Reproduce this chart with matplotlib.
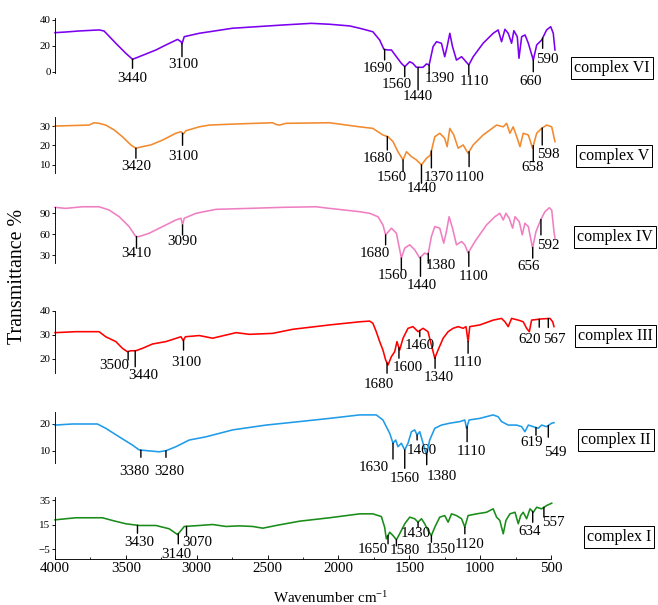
import matplotlib
matplotlib.use("Agg")

import matplotlib.pyplot as plt
import numpy as np

plt.rcParams["font.family"] = ["Liberation Serif", "DejaVu Serif"]
plt.rcParams["mathtext.default"] = "regular"

# ---- spectra (wavenumber cm-1, transmittance %) ----
vi_pts = [(4000, 30.2), (3924, 30.7), (3830, 31.5), (3689, 32.3), (3654, 31.5), (3571, 22.0),
          (3500, 14.2), (3453, 9.6), (3406, 11.6), (3288, 16.8), (3217, 20.7), (3135, 25.0),
          (3111, 23.2), (3104, 21.5), (3088, 27.1), (2982, 29.7), (2748, 33.6), (2395, 36.1),
          (2192, 37.4), (2063, 36.7), (1921, 35.4), (1850, 33.6), (1757, 30.9), (1709, 24.5),
          (1679, 17.3), (1650, 16.8), (1626, 16.8), (1591, 11.6), (1556, 6.5), (1532, 3.9),
          (1497, 7.7), (1475, 6.5), (1450, 3.4), (1403, 3.4), (1379, 6.0), (1360, 5.2),
          (1332, 19.4), (1308, 23.2), (1273, 22.0), (1250, 11.6), (1233, 19.4), (1214, 29.7),
          (1195, 19.4), (1167, 9.0), (1131, 11.6), (1110, 9.0), (1080, 5.2), (1049, 11.6),
          (979, 22.0), (908, 29.7), (873, 32.3), (849, 23.2), (825, 32.8), (802, 29.7),
          (778, 22.0), (762, 31.7), (738, 27.1), (726, 10.4), (707, 27.1), (683, 28.4),
          (660, 22.0), (625, 9.0), (601, 20.7), (566, 24.5), (531, 32.3), (502, 34.8),
          (484, 29.7), (472, 16.8)]
v_pts = [(4000, 30.0), (3760, 30.5), (3724, 31.7), (3689, 31.4), (3642, 30.5), (3583, 28.0),
         (3524, 24.5), (3465, 20.3), (3430, 18.6), (3383, 19.4), (3323, 20.3), (3241, 22.8),
         (3147, 26.3), (3111, 27.1), (3095, 25.9), (3076, 27.6), (2982, 29.6), (2911, 30.5),
         (2746, 31.0), (2464, 31.7), (2440, 30.8), (2416, 30.5), (2369, 31.4), (2063, 31.7),
         (1850, 29.6), (1757, 28.8), (1686, 25.4), (1650, 24.5), (1615, 22.0), (1580, 16.8),
         (1544, 12.6), (1520, 16.8), (1485, 14.3), (1450, 12.6), (1414, 10.0), (1379, 13.4),
         (1351, 15.1), (1320, 24.5), (1285, 26.3), (1250, 23.7), (1233, 19.4), (1214, 28.8),
         (1186, 25.4), (1155, 18.6), (1120, 20.3), (1085, 16.0), (1049, 20.3), (979, 25.4),
         (884, 30.5), (837, 29.6), (813, 31.4), (790, 26.3), (767, 29.6), (738, 23.7),
         (719, 19.4), (696, 26.3), (660, 25.4), (630, 18.6), (601, 26.3), (566, 28.8),
         (531, 30.5), (495, 29.6), (472, 22.0)]
iv_pts = [(4000, 98.6), (3924, 97.1), (3807, 99.4), (3689, 99.4), (3618, 94.7), (3547, 85.1),
          (3477, 70.9), (3430, 56.6), (3406, 56.6), (3335, 61.4), (3241, 70.9), (3147, 80.4),
          (3111, 82.9), (3100, 73.3), (3088, 82.9), (3005, 90.0), (2864, 95.7), (2628, 97.1),
          (2393, 98.6), (2157, 99.4), (2063, 97.1), (1850, 92.3), (1780, 90.0), (1721, 85.1),
          (1686, 73.3), (1667, 59.0), (1626, 68.6), (1591, 61.4), (1556, 25.7), (1532, 40.0),
          (1497, 44.7), (1462, 37.6), (1426, 25.7), (1391, 32.9), (1368, 30.4), (1344, 56.6),
          (1320, 70.9), (1285, 68.6), (1257, 47.1), (1238, 63.7), (1219, 85.1), (1195, 68.6),
          (1167, 44.7), (1131, 49.4), (1108, 44.7), (1085, 32.9), (1037, 49.4), (955, 73.3),
          (896, 85.1), (861, 90.0), (837, 80.4), (818, 90.0), (795, 82.9), (771, 68.6),
          (754, 85.1), (724, 78.0), (703, 59.0), (684, 75.7), (660, 70.9), (630, 40.0),
          (606, 63.7), (573, 80.4), (543, 92.3), (512, 98.0), (495, 94.7), (479, 63.7),
          (472, 54.3)]
iii_pts = [(4000, 30.9), (3854, 31.3), (3689, 31.3), (3642, 29.2), (3571, 27.2), (3524, 24.4),
           (3489, 23.0), (3465, 23.4), (3430, 23.4), (3383, 24.4), (3312, 26.2), (3217, 27.2),
           (3111, 29.2), (3095, 27.6), (3080, 29.2), (2982, 29.7), (2888, 28.6), (2722, 30.9),
           (2628, 30.2), (2464, 30.6), (2322, 32.3), (2063, 34.1), (1850, 35.4), (1780, 35.7),
           (1757, 34.8), (1733, 31.3), (1709, 27.2), (1686, 23.7), (1667, 19.6), (1650, 17.5),
           (1626, 21.0), (1603, 23.0), (1587, 27.2), (1568, 23.7), (1544, 28.6), (1509, 32.7),
           (1474, 33.4), (1438, 31.3), (1403, 32.7), (1368, 31.3), (1344, 25.8), (1320, 20.3),
           (1297, 23.7), (1261, 28.6), (1226, 31.3), (1191, 32.7), (1155, 33.4), (1120, 32.7),
           (1100, 33.4), (1085, 27.2), (1073, 33.4), (1002, 34.1), (908, 36.1), (849, 36.8),
           (825, 35.4), (802, 33.4), (778, 36.8), (731, 36.1), (696, 35.4), (672, 32.7),
           (653, 31.3), (637, 36.1), (566, 36.6), (507, 36.8), (488, 35.4), (479, 33.4)]
ii_pts = [(4000, 19.6), (3877, 20.0), (3701, 20.0), (3642, 18.4), (3547, 15.2), (3453, 12.1),
          (3406, 10.3), (3347, 10.0), (3265, 9.6), (3217, 10.0), (3147, 11.5), (3053, 14.0),
          (2935, 15.2), (2746, 17.8), (2510, 19.6), (2275, 20.9), (2063, 22.1), (1850, 23.4),
          (1733, 23.4), (1686, 21.5), (1638, 16.5), (1615, 12.8), (1596, 14.0), (1580, 11.5),
          (1556, 12.8), (1532, 10.3), (1509, 12.8), (1485, 17.1), (1462, 17.8), (1445, 15.9),
          (1426, 17.1), (1403, 12.8), (1379, 8.4), (1356, 14.0), (1320, 18.4), (1273, 19.6),
          (1214, 20.3), (1143, 20.9), (1108, 21.5), (1096, 18.4), (1078, 21.5), (1002, 22.1),
          (908, 23.4), (873, 22.7), (849, 20.9), (802, 19.6), (743, 19.6), (707, 19.0),
          (684, 17.1), (660, 19.6), (625, 19.0), (590, 18.4), (566, 19.6), (531, 19.0),
          (495, 20.3), (479, 20.5)]
i_pts = [(4000, 18.8), (3854, 20.5), (3665, 20.5), (3595, 18.3), (3500, 15.6), (3406, 14.2),
         (3288, 14.2), (3194, 11.5), (3159, 8.7), (3135, 6.8), (3111, 10.1), (3088, 13.4),
         (2982, 14.2), (2888, 15.0), (2793, 13.4), (2699, 13.9), (2605, 13.4), (2534, 12.0),
         (2440, 14.2), (2275, 17.7), (2063, 20.5), (1850, 23.7), (1757, 23.7), (1697, 21.5),
         (1674, 12.8), (1662, 3.3), (1638, 8.7), (1615, 6.0), (1591, 2.5), (1568, 7.4),
         (1532, 15.6), (1497, 21.0), (1462, 19.7), (1438, 16.9), (1414, 19.7), (1391, 15.6),
         (1368, 10.1), (1344, 6.0), (1320, 12.8), (1285, 21.0), (1250, 22.3), (1226, 16.9),
         (1202, 23.7), (1167, 22.3), (1131, 19.7), (1108, 12.8), (1085, 22.3), (1025, 23.7),
         (955, 25.0), (908, 27.8), (884, 21.0), (861, 18.3), (837, 7.4), (818, 18.3),
         (790, 23.7), (754, 25.0), (731, 15.6), (714, 22.3), (696, 25.0), (672, 19.7),
         (648, 27.8), (625, 25.0), (601, 29.1), (566, 27.8), (531, 30.5), (495, 32.4)]

# ---- peak markers: position on the curve and printed label ----
vi_peaks = [3453, 3104, 1674, 1532, 1438, 1360, 1080, 625, 559]
vi_labels = ["3440", "3100", "1690", "1560", "1440", "1390", "1110", "660", "590"]
v_peaks = [3429, 3100, 1655, 1544, 1414, 1344, 1078, 625, 562]
v_labels = ["3420", "3100", "1680", "1560", "1440", "1370", "1100", "658", "598"]
iv_peaks = [3425, 3100, 1667, 1556, 1421, 1366, 1080, 629, 571]
iv_labels = ["3410", "3090", "1680", "1560", "1440", "1380", "1100", "656", "592"]
iii_peaks = [3484, 3434, 3093, 1657, 1573, 1426, 1318, 1085, 583, 519]
iii_labels = ["3500", "3440", "3100", "1680", "1600", "1460", "1340", "1110", "620", "567"]
ii_peaks = [3394, 3217, 1615, 1532, 1445, 1377, 1092, 606, 519]
ii_labels = ["3380", "3280", "1630", "1560", "1460", "1380", "1110", "619", "549"]
i_peaks = [3418, 3130, 3072, 1650, 1591, 1438, 1344, 1108, 629, 550]
i_labels = ["3430", "3140", "3070", "1650", "1580", "1430", "1350", "1120", "634", "557"]

# marker layout in px: (tick length, label dx, label dy)
vi_lay = [(9, 0, 18.2), (12.8, 1.3, 18.6), (10.5, -6.7, 17.2), (10, -8.3, 16.6), (22.7, 0, 27.7),
          (8.3, 10.7, 12.5), (10, 6, 15), (11.7, -3, 20), (10.3, 5, 19.5)]
v_lay = [(10, 0, 17.3), (12, 1, 21.3), (13.5, -9.5, 20), (11.7, -11.6, 15.8), (18.3, 0, 21.7),
         (17, 7.8, 24.8), (15, 0.7, 24), (16, -1, 20), (17, 6, 24.5)]
iv_lay = [(11.6, -0.6, 15.8), (10, 0, 15), (10, -11, 16.7), (11.7, -8.4, 15.7), (19, 1, 26.4),
          (10, 12.4, 10.5), (14.6, 4.3, 23), (10.7, -3.7, 17.4), (15.5, 7, 24.5)]
iii_lay = [(8.5, -14, 12.7), (16, 7.8, 23), (10, 2.4, 20.6), (10.3, -8.1, 20), (10.4, 9, 18.4),
           (6.2, -0.5, 13.2), (10.8, 3.4, 18.8), (11.7, -0.3, 19.6), (8, -9.3, 19.1), (9, 6.2, 19.9)]
ii_lay = [(7.2, -6.7, 19.6), (6.6, 3.8, 19), (15.8, -19.1, 23.1), (18.4, 0, 27.3), (5, 4.9, 13.8),
          (11, 14.8, 21.4), (15.3, 4, 24), (7.7, -4.7, 13.5), (11.7, 7.5, 25.2)]
i_lay = [(8, 1.7, 15.3), (10.1, -2.3, 19.5), (9.2, 10.7, 14.2), (8.3, -15.8, 12.5), (6, 8, 9.5),
         (5, -2, 9.8), (6.7, 9.1, 12.5), (6.6, 4.5, 16), (10.6, -2.7, 18.6), (9.8, 9, 13.9)]

W, H = 658, 605
X_LEFT, X_RIGHT = 55, 55 + 3540 * 496 / 3500   # xlim 4000 -> 460

panels = [
    dict(name="complex VI", pts=vi_pts, peaks=vi_peaks, labels=vi_labels, lay=vi_lay,
         color="#7b00f0", top=18.3, bot=72.7, ylim=(-0.77, 41.3), yticks=[0, 20, 40], box=(612, 68)),
    dict(name="complex V", pts=v_pts, peaks=v_peaks, labels=v_labels, lay=v_lay,
         color="#f28a2e", top=117.3, bot=173.3, ylim=(5.7, 34.5), yticks=[10, 20, 30], box=(614, 156)),
    dict(name="complex IV", pts=iv_pts, peaks=iv_peaks, labels=iv_labels, lay=iv_lay,
         color="#f07fc2", top=206.7, bot=262.7, ylim=(19, 99.5), yticks=[30, 60, 90], box=(615, 237)),
    dict(name="complex III", pts=iii_pts, peaks=iii_peaks, labels=iii_labels, lay=iii_lay,
         color="#ff0000", top=310.7, bot=372.7, ylim=(14.3, 40), yticks=[20, 30, 40], box=(615.5, 336)),
    dict(name="complex II", pts=ii_pts, peaks=ii_peaks, labels=ii_labels, lay=ii_lay,
         color="#1f9be8", top=411.7, bot=463.3, ylim=(5.3, 24.6), yticks=[10, 20], box=(616, 440)),
    dict(name="complex I", pts=i_pts, peaks=i_peaks, labels=i_labels, lay=i_lay,
         color="#198c19", top=496.7, bot=559.3, ylim=(-13.4, 37.7), yticks=[-5, 15, 35], box=(619, 537)),
]

fig = plt.figure(figsize=(W / 72, H / 72), dpi=72)

for k, p in enumerate(panels):
    ax = fig.add_axes([X_LEFT / W, 1 - p["bot"] / H, (X_RIGHT - X_LEFT) / W, (p["bot"] - p["top"]) / H])
    wn, tr = np.array(p["pts"]).T
    ax.plot(wn, tr, color=p["color"], lw=1.6, clip_on=False)
    ax.set_xlim(4000, 460)
    ax.set_ylim(*p["ylim"])
    ax.set_yticks(p["yticks"])
    ax.tick_params(axis="y", direction="out", length=3, width=0.9, pad=1.5, labelsize=11)
    for s in ("top", "right"):
        ax.spines[s].set_visible(False)
    ax.spines["left"].set_linewidth(0.9)

    last = k == len(panels) - 1
    if last:
        ax.spines["bottom"].set_bounds(500, 4000)
        ax.spines["bottom"].set_linewidth(0.9)
        ax.set_xticks(np.arange(4000, 499, -500))
        ax.set_xticks(np.arange(3750, 500, -500), minor=True)
        ax.tick_params(axis="x", which="major", direction="in", length=4, width=0.9, pad=3, labelsize=15)
        ax.tick_params(axis="x", which="minor", direction="in", length=2.5, width=0.8)
    else:
        ax.spines["bottom"].set_visible(False)
        ax.set_xticks([])

    # peak markers
    for pos, lab, (L, dx, dy) in zip(p["peaks"], p["labels"], p["lay"]):
        yv = np.interp(pos, wn[::-1], tr[::-1])
        ax.annotate("", xy=(pos, yv), xytext=(0, -L), textcoords="offset points",
                    arrowprops=dict(arrowstyle="-", color="black", lw=1.4, shrinkA=0, shrinkB=0),
                    annotation_clip=False)
        # digits sit above the descender, shift a bit so the glyphs are centred
        ax.annotate(lab, xy=(pos, yv), xytext=(dx, -dy - 1.5), textcoords="offset points",
                    ha="center", va="center", fontsize=15, annotation_clip=False)

    bx, by = p["box"]
    fig.text(bx / W, 1 - by / H, p["name"], ha="center", va="center", fontsize=16,
             bbox=dict(boxstyle="square,pad=0.2", fc="white", ec="black", lw=1))

fig.text(18 / W, 1 - 276 / H, "Transmittance %", rotation=90, ha="center", va="center", fontsize=20)
fig.text(331 / W, 1 - 598 / H, "Wavenumber cm$^{-1}$", ha="center", va="center", fontsize=15)

fig.savefig("out.png", dpi=72)
plt.close(fig)
